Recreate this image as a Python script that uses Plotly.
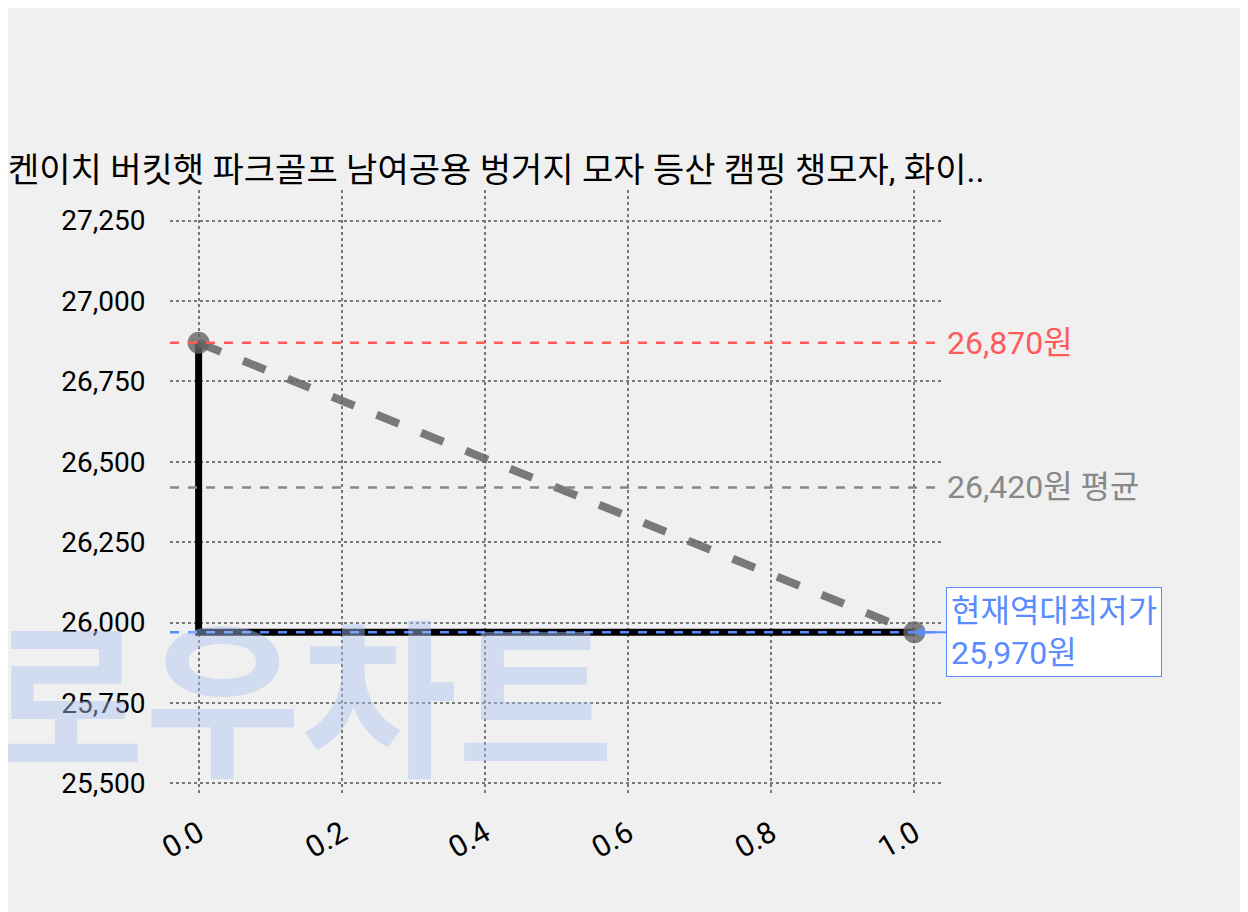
import plotly.graph_objects as go

# data
x_vals = [0.0, 1.0]
prices = [26870, 25970]
max_price = 26870
avg_price = 26420
min_price = 25970
y_ticks = [25500, 25750, 26000, 26250, 26500, 26750, 27000, 27250]
x_ticks = [0.0, 0.2, 0.4, 0.6, 0.8, 1.0]
title = "켄이치 버킷햇 파크골프 남여공용 벙거지 모자 등산 캠핑 챙모자, 화이.."
url = "lowchart.com/9637021109-28791839668"

fig = go.Figure()

# watermark
fig.add_annotation(text="<b>로우차트</b>", xref="paper", yref="paper", x=0.17, y=0.17,
                   xanchor="center", yanchor="middle", showarrow=False,
                   font=dict(size=170, color="rgba(170,195,240,0.45)", family="Noto Sans CJK KR"))

for yv, col in [(max_price, "#ff5a5a"), (avg_price, "#888888"), (min_price, "#5b8cff")]:
    fig.add_hline(y=yv, line=dict(color=col, width=2.5, dash="dash"))

fig.add_trace(go.Scatter(x=[x_vals[0], x_vals[0], x_vals[1]], y=[prices[0], prices[1], prices[1]],
                         mode="lines", line=dict(color="black", width=7), hoverinfo="skip"))
fig.add_trace(go.Scatter(x=x_vals, y=prices, mode="lines+markers",
                         line=dict(color="rgba(100,100,100,0.85)", width=8, dash="dash"),
                         marker=dict(size=22, color="rgba(100,100,100,0.8)")))

fig.add_annotation(x=1, xref="paper", y=max_price, xanchor="left", text=f"{max_price:,}원",
                   showarrow=False, font=dict(size=32, color="#ff5a5a"), xshift=2)
fig.add_annotation(x=1, xref="paper", y=avg_price, xanchor="left", text=f"{avg_price:,}원 평균",
                   showarrow=False, font=dict(size=32, color="#888888"), xshift=2)
fig.add_annotation(x=x_vals[1], y=min_price, ax=32, ay=0, xanchor="left", align="left",
                   text=f"현재역대최저가<br>{min_price:,}원", showarrow=True, arrowcolor="#5b8cff",
                   arrowhead=2, arrowwidth=2, bgcolor="white", bordercolor="#5b8cff", borderpad=4,
                   font=dict(size=32, color="#5b8cff"))
fig.add_annotation(text=url, xref="paper", yref="paper", x=-0.205, y=1.355, xanchor="left",
                   showarrow=False, font=dict(size=30, color="black"))

fig.update_layout(
    width=1248, height=912,
    paper_bgcolor="#f0f0f0", plot_bgcolor="#f0f0f0",
    font=dict(family="Roboto, Noto Sans CJK KR", color="black"),
    title=dict(text=title, x=0, xanchor="left", y=0.835, font=dict(size=34)),
    showlegend=False,
    margin=dict(l=162, r=313, t=182, b=127),
    xaxis=dict(range=[-0.04, 1.04], tickvals=x_ticks, ticktext=[f"{v:.1f}" for v in x_ticks],
               tickangle=-30, tickfont=dict(size=30), showgrid=True, gridcolor="#777",
               griddash="dot", gridwidth=2, zeroline=False, showline=False,
               ticks="outside", ticklen=10, tickcolor="rgba(0,0,0,0)"),
    yaxis=dict(range=[25470, 27345], tickvals=y_ticks, ticktext=[f"{v:,}" for v in y_ticks],
               tickfont=dict(size=28), showgrid=True, gridcolor="#777", griddash="dot",
               gridwidth=2, zeroline=False, showline=False,
               ticks="outside", ticklen=18, tickcolor="rgba(0,0,0,0)"),
)

fig.write_html("out.html")
